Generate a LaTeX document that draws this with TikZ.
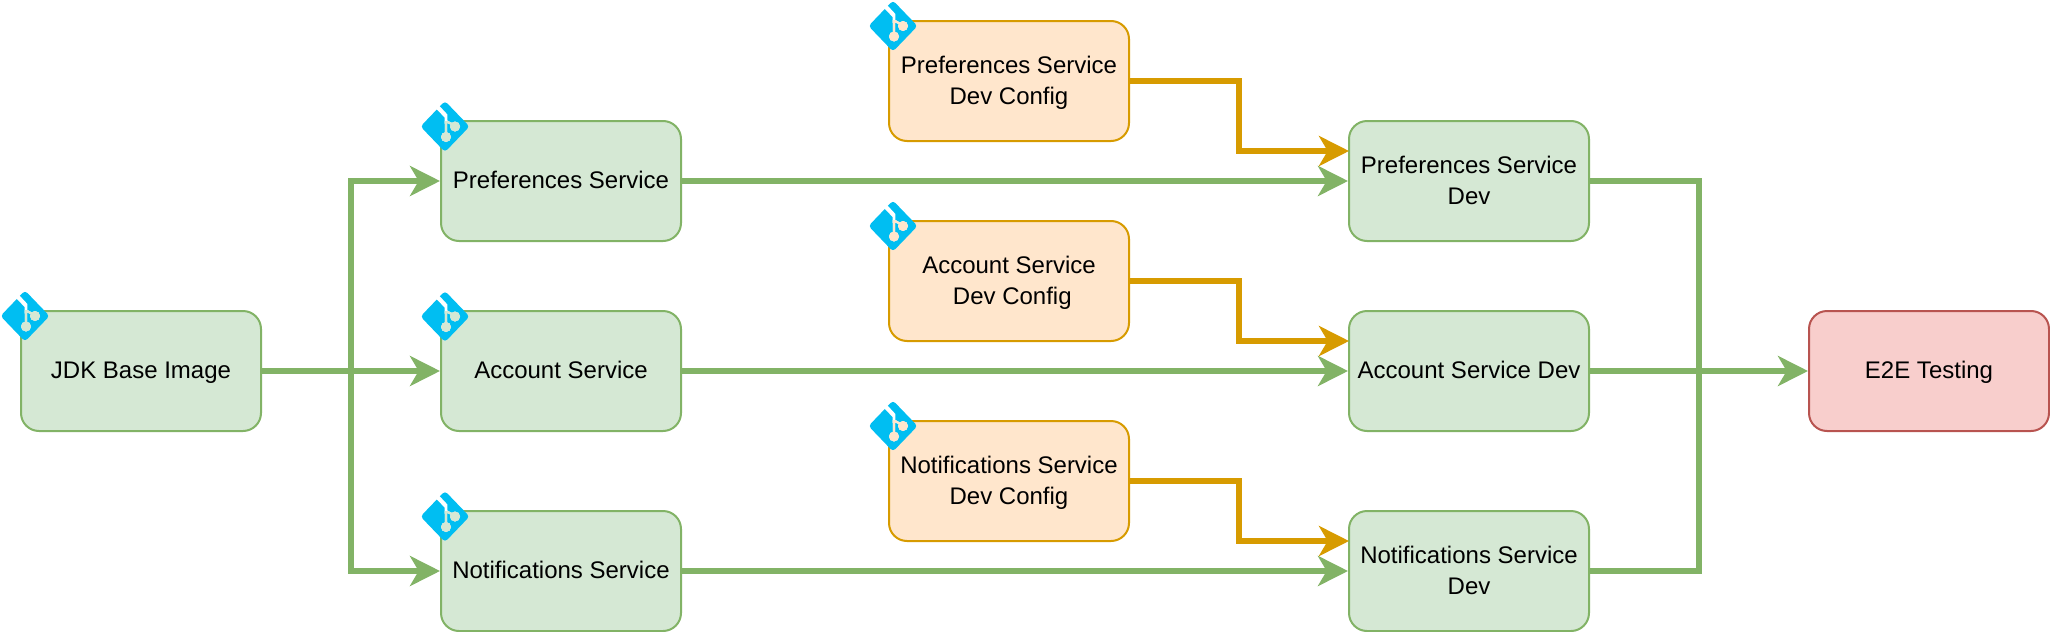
\documentclass[tikz,border=0pt]{standalone}
\usepackage{fontspec}
\setmainfont{Liberation Sans}
\usetikzlibrary{arrows.meta}
\definecolor{gfill}{HTML}{D5E8D4}
\definecolor{gline}{HTML}{82B366}
\definecolor{ofill}{HTML}{FFE6CC}
\definecolor{oline}{HTML}{D79B00}
\definecolor{rfill}{HTML}{F8CECC}
\definecolor{rline}{HTML}{B85450}
\definecolor{gitblue}{HTML}{00BEF2}
\newcommand{\st}{\rule[-4.25pt]{0pt}{19.25pt}}
\newcommand{\sttop}{\rule[-4.25pt]{0pt}{20.75pt}}
\newcommand{\githoles}[1]{%
  \fill[#1] (-9,-18)--(-6,-21)--(2.4,-12)--(2.4,-6)--(9,-2.4)--(8,-0.6)--(2.2,-3.6)--(2,8)--(0,8)--(-0.4,-9)--cycle;
  \fill[#1] (10,0) circle[radius=5];
  \fill[#1] (1,10.5) circle[radius=5];
}
\tikzset{
  card/.style={rectangle,rounded corners=13.5pt,minimum width=180pt,minimum height=90pt,line width=1.5pt,inner sep=0pt,align=center,font=\fontsize{18}{23}\selectfont,anchor=center},
  greencard/.style={card,fill=gfill,draw=gline},
  orangecard/.style={card,fill=ofill,draw=oline},
  redcard/.style={card,fill=rfill,draw=rline},
  flow/.style={line width=4.5pt,draw=#1,-{Stealth[length=22.5pt,width=22.5pt,inset=6.5pt,fill=#1]}},
  bus/.style={line width=4.5pt,draw=gline},
  pics/gitmark/.style={code={
    \fill[gitblue,rounded corners=2.5pt] (0,-25.5)--(24.5,0)--(0,25.5)--(-24.5,0)--cycle;
    \githoles{white}
    \begin{scope}
      \clip (-4,-5.5) rectangle (40,40);
      \githoles{#1}
    \end{scope}
  }}
}
\begin{document}
\begin{tikzpicture}[x=0.75pt,y=-0.75pt]
\useasboundingbox (0,0) rectangle (2050,632);
\node[greencard] (jdk) at (141,371) {\st JDK Base Image};
\node[greencard] (pref) at (561,181) {\st Preferences Service};
\node[greencard] (acct) at (561,371) {\st Account Service};
\node[greencard] (noti) at (561,571) {\st Notifications Service};
\node[orangecard] (prefc) at (1009,81) {\sttop Preferences Service\\\st Dev Config};
\node[orangecard] (acctc) at (1009,281) {\sttop Account Service\\\st\hspace*{5pt}Dev Config};
\node[orangecard] (notic) at (1009,481) {\sttop Notifications Service\\\st Dev Config};
\node[greencard] (prefd) at (1469,181) {\sttop Preferences Service\\\st Dev};
\node[greencard] (acctd) at (1469,371) {\st Account Service Dev};
\node[greencard] (notid) at (1469,571) {\sttop Notifications Service\\\st Dev};
\node[redcard] (e2e) at (1929,371) {\st E2E Testing};
\coordinate (busl) at (351,371);
\coordinate (busr) at (1699,371);
\coordinate (prefin) at (1349,151);
\coordinate (acctin) at (1349,341);
\coordinate (notiin) at (1349,541);
\coordinate (prefmid) at (1239,151);
\coordinate (acctmid) at (1239,341);
\coordinate (notimid) at (1239,541);
\draw[flow=gline] (jdk.east) -- (acct.west);
\draw[flow=gline] (jdk.east) -- (busl) |- (pref.west);
\draw[flow=gline] (jdk.east) -- (busl) |- (noti.west);
\draw[flow=gline] (pref.east) -- (prefd.west);
\draw[flow=gline] (acct.east) -- (acctd.west);
\draw[flow=gline] (noti.east) -- (notid.west);
\draw[flow=gline] (acctd.east) -- (e2e.west);
\draw[bus] (prefd.east) -| (busr);
\draw[bus] (notid.east) -| (busr);
\draw[flow=oline] (prefc.east) -| (prefmid) -- (prefin);
\draw[flow=oline] (acctc.east) -| (acctmid) -- (acctin);
\draw[flow=oline] (notic.east) -| (notimid) -- (notiin);
\pic at (25,316) {gitmark=gfill};
\pic at (445,126.5) {gitmark=gfill};
\pic at (445,316.5) {gitmark=gfill};
\pic at (445,516.5) {gitmark=gfill};
\pic at (893,26) {gitmark=ofill};
\pic at (893,226) {gitmark=ofill};
\pic at (893,426) {gitmark=ofill};
\end{tikzpicture}
\end{document}
